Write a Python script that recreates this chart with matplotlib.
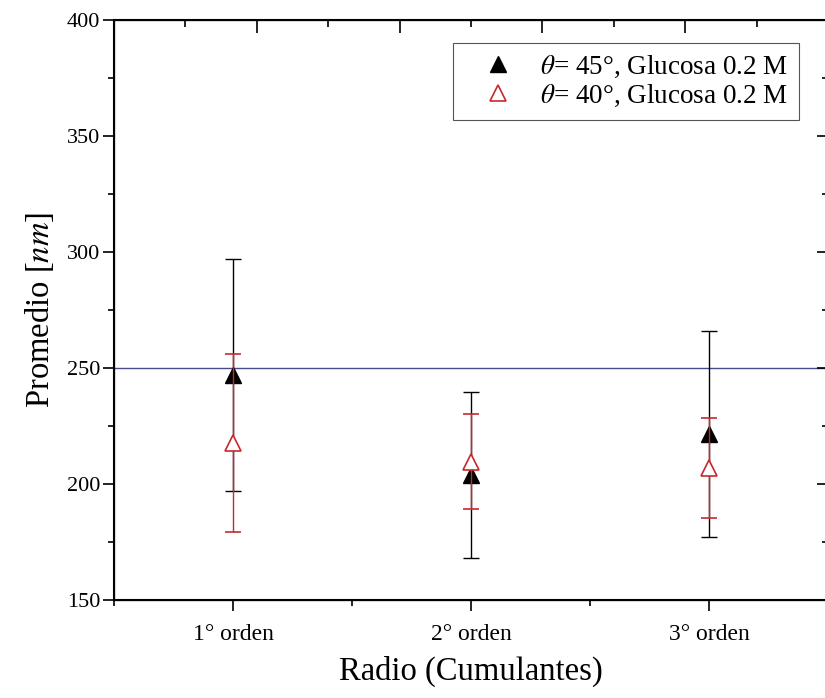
import numpy as np
import matplotlib
matplotlib.use("Agg")
import matplotlib.pyplot as plt
from matplotlib.ticker import MultipleLocator
from matplotlib.lines import Line2D

# data
categories = ["1° orden", "2° orden", "3° orden"]
x_pos = [1, 2, 3]

mean_45 = [247.0, 204.0, 221.5]
err_45 = [50.0, 35.7, 44.5]

mean_40 = [217.5, 209.6, 206.9]
err_40 = [38.4, 20.5, 21.4]

ref_value = 250

label_45 = r"$\theta$= 45°, Glucosa 0.2 M"
label_40 = r"$\theta$= 40°, Glucosa 0.2 M"

plt.rcParams["font.family"] = ["Liberation Serif", "DejaVu Serif"]
plt.rcParams["mathtext.fontset"] = "stix"

W, H = 825, 698
fig = plt.figure(figsize=(W / 100, H / 100), dpi=100)
ax = fig.add_axes([114 / W, 1 - 600 / H, (828 - 114) / W, (600 - 20) / H])

red = "#c8282d"

# reference line
ax.axhline(ref_value, color="#4b4b8c", lw=1.0, zorder=1)

ax.errorbar(x_pos, mean_45, yerr=err_45, fmt="^", color="black", ms=12,
            ecolor="black", elinewidth=1.0, capsize=6, capthick=1.0, zorder=3)
ax.errorbar(x_pos, mean_40, yerr=err_40, fmt="^", color=red, ms=12,
            mfc="white", mec=red, mew=1.2, ecolor=red, elinewidth=1.0,
            capsize=6, capthick=1.0, zorder=4)

ax.set_xlim(0.5, 3.5)
ax.set_ylim(150, 400)
ax.set_xticks(x_pos)
ax.set_xticklabels(categories)
ax.xaxis.set_minor_locator(MultipleLocator(0.5))
ax.yaxis.set_major_locator(MultipleLocator(50))
ax.yaxis.set_minor_locator(MultipleLocator(25))

ax.tick_params(which="both", direction="out", width=1.2,
               top=False, right=False)
ax.tick_params(which="major", length=8)
ax.tick_params(which="minor", length=4)
ax.tick_params(axis="x", labelsize=17, pad=9)
ax.tick_params(axis="y", labelsize=16, pad=2)

for s in ax.spines.values():
    s.set_linewidth(1.5)

ax.set_xlabel("Radio (Cumulantes)", fontsize=23.5, labelpad=8)
ax.set_ylabel("Promedio [$nm$]", fontsize=23.5, labelpad=8)

# right side ticks (inward)
axr = ax.twinx()
axr.set_ylim(ax.get_ylim())
axr.yaxis.set_major_locator(MultipleLocator(50))
axr.yaxis.set_minor_locator(MultipleLocator(25))
axr.tick_params(which="both", direction="in", width=1.2, labelright=False)
axr.tick_params(which="major", length=8)
axr.tick_params(which="minor", length=4)

# top ticks (inward, own scale)
axt = ax.twiny()
axt.set_xlim(0, 5)
axt.xaxis.set_major_locator(MultipleLocator(1))
axt.xaxis.set_minor_locator(MultipleLocator(0.5))
axt.tick_params(which="both", direction="in", width=1.2, labeltop=False)
axt.tick_params(which="major", length=9)
axt.tick_params(which="minor", length=5)

handles = [
    Line2D([], [], ls="none", marker="^", ms=12, color="black"),
    Line2D([], [], ls="none", marker="^", ms=12, mfc="white", mec=red, mew=1.2),
]
leg = ax.legend(handles, [label_45, label_40], loc="upper right",
                bbox_to_anchor=(799 / W, 1 - 43 / H),
                bbox_transform=fig.transFigure, borderaxespad=0,
                fontsize=19.5, fancybox=False, frameon=True, framealpha=1,
                edgecolor="#555555", handlelength=2.5, handletextpad=0.3,
                borderpad=0.4, labelspacing=0.1)
leg.get_frame().set_linewidth(0.8)
leg.set_zorder(10)

fig.savefig("out.png", dpi=100)
